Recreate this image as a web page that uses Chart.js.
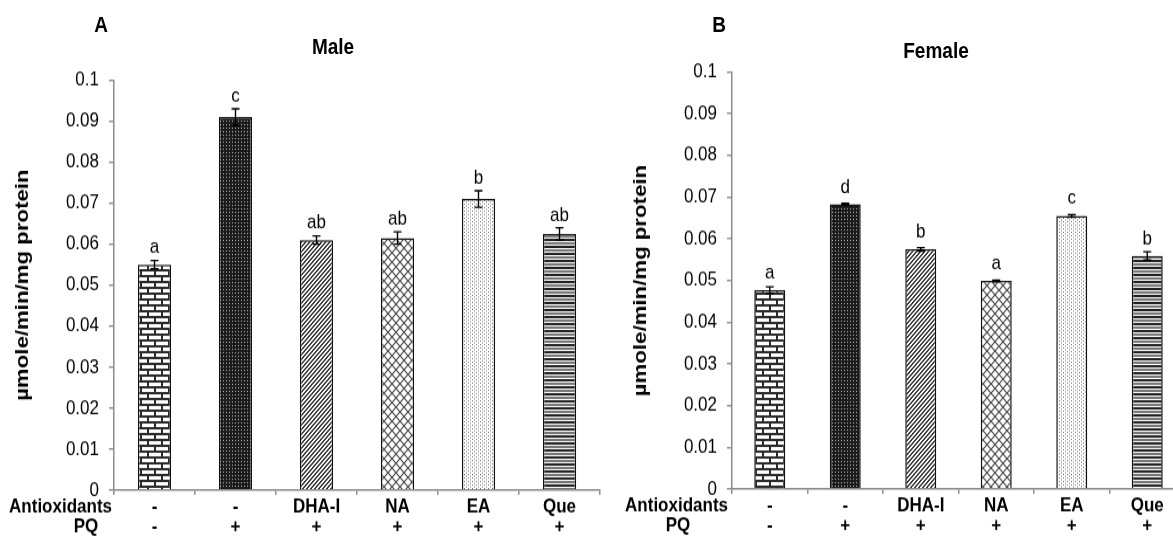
<!DOCTYPE html>
<html>
<head>
<meta charset="utf-8">
<script src="https://cdn.jsdelivr.net/npm/chart.js@4"></script>
<style>
  html, body { margin: 0; padding: 0; background: #fff; overflow: hidden; }
  body { width: 1173px; height: 539px; position: relative; }
  /* the figure is laid out on a shorter stage and stretched to full height */
  #stage { position: absolute; left: 0; top: 0; width: 1200px; height: 461px;
           transform-origin: 0 0; transform: scaleY(1.17); }
  canvas { position: absolute; top: 0; }
  .lbl { position: absolute; transform: translate(-50%, -50%); font-weight: bold; color: #000; white-space: nowrap;
         font-family: "Liberation Sans", Arial, sans-serif; font-size: 19px; }
</style>
</head>
<body>
<div id="stage">
  <canvas id="male" width="620" height="461" style="left:0px"></canvas>
  <canvas id="female" width="580" height="461" style="left:615px"></canvas>
  <div class="lbl" style="left:101px; top:21px;">A</div>
  <div class="lbl" style="left:333px; top:40px;">Male</div>
  <div class="lbl" style="left:719px; top:21px;">B</div>
  <div class="lbl" style="left:936px; top:43.5px;">Female</div>
</div>
<script>
// Treatment groups
const antioxidants = ['-', '-', 'DHA-I', 'NA', 'EA', 'Que'];
const pq = ['-', '+', '+', '+', '+', '+'];

// Enzyme activity (µmole/min/mg protein), means and SE
const maleMeans = [0.055, 0.091, 0.061, 0.0615, 0.071, 0.0625];
const maleErr = [0.001, 0.002, 0.001, 0.0015, 0.002, 0.0015];
const maleLetters = ['a', 'c', 'ab', 'ab', 'b', 'ab'];

const femaleMeans = [0.0477, 0.0683, 0.0575, 0.0499, 0.0655, 0.0559];
const femaleErr = [0.0008, 0.0002, 0.0004, 0.0002, 0.0003, 0.001];
const femaleLetters = ['a', 'd', 'b', 'a', 'c', 'b'];

const yMin = 0, yMax = 0.1, yStep = 0.01;
const yTitle = 'µmole/min/mg protein';
const rowNames = ['Antioxidants', 'PQ'];

const FONT = '"Liberation Sans", Arial, sans-serif';
const TICK_SIZE = 17, TICK_LH = 1.05, X_TICK_LEN = 4;

// ---- fill patterns for the bars ----
function makePattern(w, h, draw) {
  const c = document.createElement('canvas');
  c.width = w; c.height = h;
  const g = c.getContext('2d');
  g.fillStyle = '#fff';
  g.fillRect(0, 0, w, h);
  draw(g, w, h);
  return g.createPattern(c, 'repeat');
}
const patterns = [
  // brick
  makePattern(14, 10, g => {
    g.fillStyle = '#2a2a2a';
    g.fillRect(0, 0, 14, 2);
    g.fillRect(0, 5, 14, 2);
    g.fillRect(0, 0, 2, 5);
    g.fillRect(7, 5, 2, 5);
  }),
  // dense dark dots
  makePattern(3, 3, g => {
    g.fillStyle = '#1c1c1c';
    g.fillRect(0, 0, 3, 3);
    g.fillStyle = '#b0b0b0';
    g.fillRect(1, 1, 1, 1);
  }),
  // upward diagonal
  makePattern(4, 4, g => {
    g.fillStyle = '#3a3a3a';
    for (let y = 0; y < 4; y++) {
      g.fillRect((3 - y + 4) % 4, y, 1, 1);
      g.fillRect((4 - y + 4) % 4, y, 1, 1);
    }
  }),
  // diamond lattice
  makePattern(8, 8, g => {
    g.strokeStyle = '#4a4a4a';
    g.lineWidth = 1.2;
    g.beginPath();
    g.moveTo(0, 0); g.lineTo(8, 8);
    g.moveTo(0, 8); g.lineTo(8, 0);
    g.stroke();
  }),
  // light dots
  makePattern(4, 3, g => {
    g.fillStyle = '#777';
    g.fillRect(0, 0, 1, 1);
    g.fillRect(2, 1.5, 1, 1);
  }),
  // horizontal stripes
  makePattern(1, 6, g => {
    const rows = ['#222', '#222', '#fff', '#777', '#777', '#fff'];
    rows.forEach((c, i) => { g.fillStyle = c; g.fillRect(0, i, 1, 1); });
  })
];

// ---- error bars and significance letters ----
const errorBarPlugin = {
  id: 'errorBars',
  afterDatasetsDraw(chart, args, opts) {
    const { ctx } = chart;
    const y = chart.scales.y;
    const meta = chart.getDatasetMeta(0);
    ctx.save();
    meta.data.forEach((bar, i) => {
      const m = opts.means[i], e = opts.errors[i];
      const top = y.getPixelForValue(m + e);
      const bot = y.getPixelForValue(m - e);
      ctx.strokeStyle = '#000';
      ctx.lineWidth = 1.4;
      ctx.beginPath();
      ctx.moveTo(bar.x, top); ctx.lineTo(bar.x, bot);
      ctx.moveTo(bar.x - 4, top); ctx.lineTo(bar.x + 4, top);
      ctx.moveTo(bar.x - 4, bot); ctx.lineTo(bar.x + 4, bot);
      ctx.stroke();
      // letter sits clear of both the bar top and the error cap
      const base = Math.min(bar.y - 10, top - 6);
      ctx.fillStyle = '#000';
      ctx.font = TICK_SIZE + 'px ' + FONT;
      ctx.textAlign = 'center';
      ctx.textBaseline = 'alphabetic';
      ctx.fillText(opts.letters[i], bar.x, base);
    });
    ctx.restore();
  }
};

// ---- row names left of the category labels ----
const rowLabelPlugin = {
  id: 'rowLabels',
  afterDraw(chart, args, opts) {
    const { ctx, chartArea } = chart;
    const x = chart.scales.x;
    const lh = TICK_SIZE * TICK_LH;
    const y1 = x.top + X_TICK_LEN + 1 + lh / 2;
    ctx.save();
    ctx.fillStyle = '#000';
    ctx.font = 'bold ' + TICK_SIZE + 'px ' + FONT;
    ctx.textBaseline = 'middle';
    ctx.textAlign = 'right';
    ctx.fillText(rowNames[0], chartArea.left + opts.firstRight, y1);
    ctx.textAlign = 'center';
    ctx.fillText(rowNames[1], chartArea.left + opts.secondCenter, y1 + lh);
    ctx.restore();
  }
};

function buildChart(id, means, errors, letters, layout) {
  const labels = antioxidants.map((a, i) => [a, pq[i]]);
  return new Chart(document.getElementById(id), {
    type: 'bar',
    data: {
      labels,
      datasets: [{
        data: means,
        backgroundColor: patterns,
        borderColor: '#111',
        borderWidth: 1.5,
        barPercentage: 0.41,
        categoryPercentage: 1
      }]
    },
    options: {
      responsive: false,
      animation: false,
      events: [],
      layout: { padding: { left: 0, top: layout.top, right: layout.right, bottom: 0 } },
      plugins: {
        legend: { display: false },
        tooltip: { enabled: false },
        errorBars: { means, errors, letters },
        rowLabels: { firstRight: layout.firstRight, secondCenter: layout.secondCenter }
      },
      scales: {
        x: {
          afterFit(s) { s.height = layout.xHeight; },
          grid: { offset: true, drawOnChartArea: false, tickLength: X_TICK_LEN, color: '#8c8c8c', lineWidth: 1.5 },
          border: { color: '#8c8c8c', width: 1.4 },
          ticks: {
            autoSkip: false, maxRotation: 0, padding: 1, color: '#000',
            font: { family: FONT, size: TICK_SIZE, weight: 'bold', lineHeight: TICK_LH }
          }
        },
        y: {
          min: yMin, max: yMax,
          afterFit(s) { s.width = layout.yWidth; },
          grid: { drawOnChartArea: false, tickLength: 5, color: '#8c8c8c', lineWidth: 1.4 },
          border: { color: '#8c8c8c', width: 1.5 },
          ticks: {
            stepSize: yStep, padding: 10, color: '#000',
            font: { family: FONT, size: TICK_SIZE },
            callback: v => String(+v.toFixed(2))
          },
          title: {
            display: true, text: yTitle, color: '#000',
            font: { family: FONT, size: 19, weight: 'bold' },
            padding: { top: layout.titlePad, bottom: 0 }
          }
        }
      }
    },
    plugins: [errorBarPlugin, rowLabelPlugin]
  });
}

buildChart('male', maleMeans, maleErr, maleLetters,
  { top: 68.4, right: 20, xHeight: 42, yWidth: 114, titlePad: 11, firstRight: -2, secondCenter: -28 });
buildChart('female', femaleMeans, femaleErr, femaleLetters,
  { top: 61.5, right: 10, xHeight: 43, yWidth: 117, titlePad: 14, firstRight: -4, secondCenter: -54 });
</script>
</body>
</html>
